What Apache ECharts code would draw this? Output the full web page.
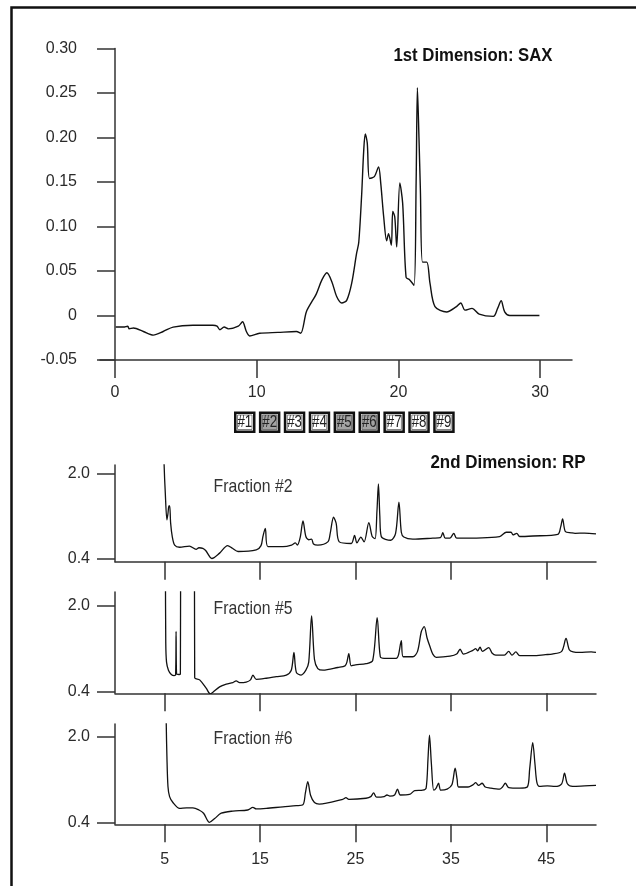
<!DOCTYPE html>
<html>
<head>
<meta charset="utf-8">
<style>
  html, body { margin: 0; padding: 0; background: #fff; }
  #main { width: 636px; height: 886px; }
</style>
<script src="https://cdn.jsdelivr.net/npm/echarts@6.0.0/dist/echarts.min.js"></script>
</head>
<body>
<div id="main"></div>
<script>
// 1st dimension (SAX) trace: [time, absorbance]
var saxTrace = [[0.05,-0.013],[0.6,-0.013],[0.9,-0.012],[1.0,-0.015],[1.3,-0.014],[2.0,-0.018],[2.7,-0.022],[3.4,-0.018],[4.1,-0.013],[5.5,-0.011],[6.9,-0.011],[7.2,-0.012],[7.4,-0.016],[7.7,-0.013],[8.0,-0.015],[8.7,-0.012],[9.0,-0.007],[9.27,-0.018],[9.5,-0.023],[10.2,-0.020],[11.5,-0.019],[12.8,-0.018],[13.1,-0.020],[13.5,0.004],[13.87,0.015],[14.2,0.024],[14.6,0.040],[14.95,0.048],[15.3,0.038],[15.65,0.021],[16.0,0.014],[16.35,0.017],[16.7,0.036],[17.05,0.070],[17.2,0.082],[17.4,0.134],[17.55,0.185],[17.66,0.204],[17.8,0.194],[17.96,0.154],[18.3,0.156],[18.6,0.167],[18.75,0.149],[18.96,0.111],[19.17,0.084],[19.3,0.092],[19.5,0.079],[19.6,0.117],[19.74,0.111],[19.88,0.077],[20.1,0.149],[20.3,0.126],[20.54,0.043],[20.8,0.040],[21.1,0.034],[21.25,0.15],[21.34,0.256],[21.45,0.2],[21.55,0.141],[21.7,0.060],[22.0,0.060],[22.23,0.036],[22.58,0.010],[23.4,0.004],[24.1,0.010],[24.4,0.014],[24.7,0.006],[25.2,0.008],[25.7,0.0015],[26.7,-0.001],[27.0,0.008],[27.25,0.0165],[27.5,0.004],[27.85,0.000],[29.95,0.000]];

// 2nd dimension (RP) traces of the collected fractions
var frac2Trace = [[4.9,2.6],[4.95,2.14],[5.07,1.63],[5.24,1.13],[5.35,1.25],[5.45,1.39],[5.53,1.39],[5.63,1.07],[5.8,0.82],[6.05,0.66],[6.57,0.62],[7.6,0.64],[8.3,0.58],[8.6,0.61],[9.0,0.60],[9.3,0.56],[9.95,0.41],[10.76,0.51],[11.6,0.65],[12.1,0.6],[12.7,0.54],[14.6,0.57],[15.1,0.65],[15.3,0.82],[15.55,0.97],[15.82,0.63],[17.4,0.63],[18.3,0.66],[18.7,0.70],[18.9,0.66],[19.2,0.8],[19.5,1.11],[19.8,0.82],[20.1,0.76],[20.4,0.77],[20.6,0.68],[21.05,0.66],[22.1,0.72],[22.35,0.88],[22.7,1.18],[22.97,1.07],[23.3,0.72],[24.55,0.69],[24.9,0.84],[25.15,0.70],[25.56,0.81],[25.9,0.72],[26.4,1.08],[26.75,0.82],[27.05,0.78],[27.25,1.3],[27.4,1.80],[27.55,1.2],[27.7,0.82],[28.7,0.75],[29.2,0.88],[29.55,1.46],[29.8,0.9],[30.06,0.81],[31.0,0.77],[33.1,0.79],[33.9,0.80],[34.15,0.89],[34.4,0.79],[34.9,0.79],[35.3,0.88],[35.6,0.79],[40.1,0.82],[40.8,0.90],[41.3,0.90],[41.5,0.85],[41.9,0.88],[42.2,0.82],[43.6,0.83],[46.2,0.86],[46.5,1.0],[46.7,1.15],[47.0,0.91],[47.6,0.89],[48.0,0.88],[49.0,0.885],[50.2,0.87]];
var frac5Trace = [[5.08,3.0],[5.12,1.3],[5.2,0.95],[5.4,0.8],[5.7,0.72],[6.0,0.7],[6.15,0.71],[6.2,1.52],[6.25,0.73],[6.5,0.72],[6.65,0.73],[6.68,3.0],[8.12,3.0],[8.15,0.66],[8.67,0.62],[9.37,0.46],[9.78,0.36],[10.06,0.39],[10.76,0.49],[11.46,0.54],[12.15,0.57],[12.5,0.60],[12.85,0.57],[13.55,0.58],[14.0,0.62],[14.25,0.71],[14.6,0.63],[15.65,0.65],[16.7,0.68],[17.75,0.71],[18.27,0.80],[18.55,1.13],[18.8,0.76],[19.3,0.71],[19.8,0.80],[20.1,0.95],[20.4,1.81],[20.7,1.0],[21.05,0.83],[21.6,0.80],[23.15,0.85],[23.9,0.88],[24.1,0.95],[24.3,1.11],[24.55,0.88],[25.0,0.9],[26.1,0.92],[26.8,0.98],[27.27,1.78],[27.6,1.05],[28.0,1.02],[29.26,1.02],[29.5,1.08],[29.8,1.35],[30.0,1.05],[31.0,1.05],[31.5,1.15],[31.9,1.52],[32.2,1.61],[32.5,1.4],[32.8,1.24],[33.1,1.10],[33.45,1.04],[34.9,1.06],[35.6,1.10],[35.96,1.19],[36.3,1.10],[37.3,1.17],[37.6,1.20],[37.8,1.16],[38.05,1.23],[38.3,1.15],[38.96,1.22],[39.3,1.12],[39.7,1.08],[40.6,1.08],[41.05,1.15],[41.4,1.08],[41.8,1.14],[42.2,1.07],[43.6,1.07],[44.9,1.09],[45.6,1.10],[46.6,1.15],[47.06,1.39],[47.4,1.18],[47.8,1.14],[48.5,1.13],[49.7,1.14],[50.2,1.13]];
var frac6Trace = [[5.15,2.8],[5.17,2.24],[5.24,1.63],[5.35,1.07],[5.52,0.88],[5.87,0.77],[6.57,0.66],[7.3,0.67],[7.96,0.67],[8.6,0.63],[9.08,0.57],[9.7,0.40],[10.24,0.47],[10.93,0.57],[12.15,0.61],[13.7,0.63],[14.25,0.68],[14.6,0.65],[15.65,0.66],[17.4,0.69],[18.8,0.71],[19.5,0.73],[19.75,0.95],[20.0,1.16],[20.3,0.9],[20.7,0.77],[21.2,0.74],[23.67,0.83],[24.0,0.86],[24.3,0.83],[26.1,0.85],[26.6,0.88],[26.9,0.95],[27.2,0.87],[28.0,0.88],[28.3,0.91],[28.6,0.89],[29.1,0.91],[29.4,1.02],[29.7,0.91],[30.65,0.92],[31.2,0.99],[32.05,1.00],[32.4,1.04],[32.6,1.6],[32.75,2.03],[32.95,1.5],[33.2,1.00],[33.45,1.04],[33.7,1.13],[33.94,1.00],[34.6,1.02],[35.1,1.10],[35.44,1.41],[35.65,1.2],[35.8,1.06],[36.8,1.06],[37.3,1.10],[37.6,1.14],[37.9,1.09],[38.27,1.13],[38.6,1.06],[39.1,1.04],[40.1,1.02],[40.4,1.06],[40.7,1.13],[41.05,1.05],[42.2,1.04],[43.0,1.06],[43.25,1.4],[43.57,1.89],[43.8,1.5],[44.0,1.15],[44.27,1.07],[45.1,1.08],[45.9,1.07],[46.6,1.12],[46.9,1.32],[47.2,1.12],[47.75,1.07],[49.0,1.08],[50.2,1.09]];

var saxTicks = [0, 10, 20, 30];
var rpTicks = [5, 15, 25, 35, 45];
var rpYTicks = [0.4, 2.0];
var fractionLabels = ['#1', '#2', '#3', '#4', '#5', '#6', '#7', '#8', '#9'];
var collected = ['#2', '#5', '#6'];
var panelNames = ['Fraction #2', 'Fraction #5', 'Fraction #6'];

var font = "'Liberation Sans', Arial, sans-serif";
var ink = '#2a2a2a';
var axisStyle = { color: '#333', width: 1.5 };
var narrow = 0.83; // squeeze Arial-like text toward the narrow face of the original

var myChart = echarts.init(document.getElementById('main'));

// lower panels: grid tops / heights and y ranges
var panels = [
  { top: 465, height: 96.7, min: 0.35, max: 2.155, data: frac2Trace },
  { top: 592, height: 101.3, min: 0.37, max: 2.255, data: frac5Trace },
  { top: 724, height: 100.3, min: 0.363, max: 2.237, data: frac6Trace }
];

var grids = [{ left: 100, top: 48.5, width: 472, height: 311.5, outerBoundsMode: 'none' }];
var xAxes = [{
  type: 'value', gridIndex: 0, min: -1.06, max: 32.25,
  axisLine: { onZero: false, lineStyle: axisStyle },
  axisTick: { length: 18, lineStyle: axisStyle, customValues: saxTicks },
  axisLabel: { customValues: saxTicks, margin: 25, color: ink, fontSize: 16, fontFamily: font },
  splitLine: { show: false }
}];
var yAxes = [{
  type: 'value', gridIndex: 0, min: -0.05, max: 0.3, interval: 0.05,
  axisLine: { show: true, onZero: true, lineStyle: axisStyle },
  axisTick: { show: true, length: 18, lineStyle: axisStyle },
  axisLabel: {
    margin: 23, color: ink, fontSize: 16, fontFamily: font,
    formatter: function (v) { return Math.abs(v) < 1e-9 ? '0' : v.toFixed(2); }
  },
  splitLine: { show: false }
}];
var series = [{
  type: 'line', xAxisIndex: 0, yAxisIndex: 0, data: saxTrace,
  showSymbol: false, symbol: 'none', smooth: 0.3, clip: true,
  lineStyle: { color: '#111', width: 1.4 }
}];

panels.forEach(function (p, i) {
  var gi = i + 1;
  grids.push({ left: 115, top: p.top, width: 481, height: p.height, outerBoundsMode: 'none' });
  xAxes.push({
    type: 'value', gridIndex: gi, min: -0.2, max: 50.2,
    axisLine: { onZero: false, lineStyle: axisStyle },
    axisTick: { length: 18, lineStyle: axisStyle, customValues: rpTicks },
    axisLabel: { show: gi === 3, customValues: rpTicks, margin: 27, color: ink, fontSize: 16, fontFamily: font },
    splitLine: { show: false }
  });
  yAxes.push({
    type: 'value', gridIndex: gi, min: p.min, max: p.max,
    axisLine: { show: true, onZero: false, lineStyle: axisStyle },
    axisTick: { show: true, length: 18, lineStyle: axisStyle, customValues: rpYTicks },
    axisLabel: {
      customValues: rpYTicks, margin: 25, color: ink, fontSize: 16, fontFamily: font,
      formatter: function (v) { return v.toFixed(1); }
    },
    splitLine: { show: false }
  });
  series.push({
    type: 'line', xAxisIndex: gi, yAxisIndex: gi, data: p.data,
    showSymbol: false, symbol: 'none', smooth: 0.3, clip: true,
    lineStyle: { color: '#111', width: 1.3 }
  });
});

// frame, headings and the fraction boxes
var graphics = [
  { type: 'rect', shape: { x: 11.5, y: 7.5, width: 700, height: 900 }, style: { fill: 'none', stroke: '#111', lineWidth: 2.5 }, silent: true },
  { type: 'text', x: 473, y: 56, scaleX: 0.93, style: { text: '1st Dimension: SAX', font: 'bold 18px ' + font, fill: '#111', align: 'center', verticalAlign: 'middle' } },
  { type: 'text', x: 508, y: 463, scaleX: 0.94, style: { text: '2nd Dimension: RP', font: 'bold 18px ' + font, fill: '#111', align: 'center', verticalAlign: 'middle' } }
];
var nameY = [487, 609, 739];
panelNames.forEach(function (name, i) {
  graphics.push({ type: 'text', x: 253, y: nameY[i], scaleX: narrow, style: { text: name, font: '19px ' + font, fill: '#333', align: 'center', verticalAlign: 'middle' } });
});
fractionLabels.forEach(function (lab, i) {
  var x0 = 234 + i * 24.9, y0 = 411.5;
  var on = collected.indexOf(lab) >= 0;
  graphics.push({
    type: 'group',
    children: [
      { type: 'rect', shape: { x: x0, y: y0, width: 21.5, height: 21.5 }, style: { fill: '#111' } },
      { type: 'rect', shape: { x: x0 + 2.5, y: y0 + 2.5, width: 16.5, height: 16.5 }, style: { fill: on ? '#d0d0d0' : '#fff' } },
      { type: 'rect', shape: { x: x0 + 3.5, y: y0 + 3.5, width: 14.5, height: 14.5 }, style: { fill: on ? '#a3a3a3' : '#fff', stroke: '#666', lineWidth: 0.8 } },
      { type: 'text', x: x0 + 10.75, y: y0 + 11, scaleX: 0.78, style: { text: lab, font: '17px ' + font, fill: '#222', align: 'center', verticalAlign: 'middle' } }
    ]
  });
});

var option = {
  backgroundColor: '#fff',
  animation: false,
  grid: grids,
  xAxis: xAxes,
  yAxis: yAxes,
  series: series,
  graphic: graphics
};

myChart.setOption(option);
</script>
</body>
</html>
